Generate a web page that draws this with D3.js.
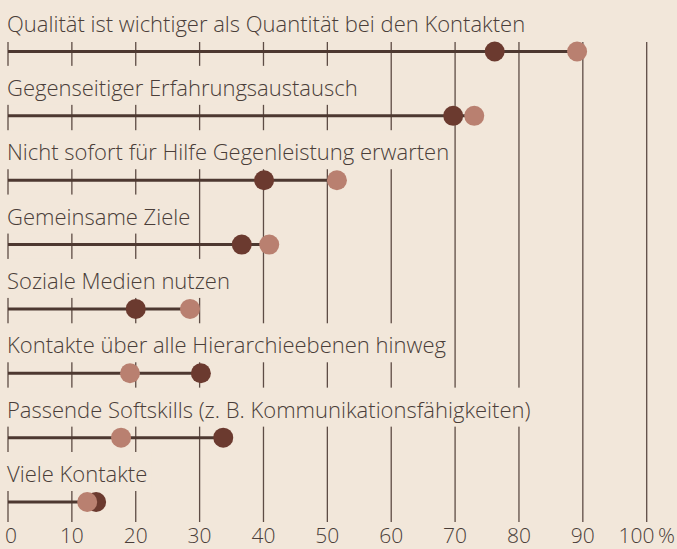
<!DOCTYPE html>
<html>
<head>
<meta charset="utf-8">
<script src="https://cdn.jsdelivr.net/npm/d3@7"></script>
<style>
  html, body { margin: 0; padding: 0; background: #f2e7da; }
  svg { display: block; }
  text { font-family: "Open Sans", sans-serif; font-weight: 300; fill: #4a3e39; }
</style>
</head>
<body>
<script>
var width = 677,
    height = 549;

var labels = [
  "Qualität ist wichtiger als Quantität bei den Kontakten",
  "Gegenseitiger Erfahrungsaustausch",
  "Nicht sofort für Hilfe Gegenleistung erwarten",
  "Gemeinsame Ziele",
  "Soziale Medien nutzen",
  "Kontakte über alle Hierarchieebenen hinweg",
  "Passende Softskills (z. B. Kommunikationsfähigkeiten)",
  "Viele Kontakte"
];
var darkValues = [76.2, 69.7, 40.1, 36.6, 20.0, 30.2, 33.7, 13.8];
var lightValues = [89.1, 73.0, 51.5, 40.9, 28.5, 19.1, 17.7, 12.4];
var tickValues = [0, 10, 20, 30, 40, 50, 60, 70, 80, 90, 100];
var tickLabels = ["0", "10", "20", "30", "40", "50", "60", "70", "80", "90", "100\u2009%"];

var rows = labels.map(function(l, i) {
  return { label: l, dark: darkValues[i], light: lightValues[i] };
});

var x = d3.scaleLinear()
    .domain([0, 100])
    .range([8, 646.7]);

var y = d3.scalePoint()
    .domain(labels)
    .range([51.5, 502]);

var svg = d3.select("body").append("svg")
    .attr("width", width)
    .attr("height", height);

// gridlines, full height; label boxes cover them
svg.append("g")
    .attr("class", "grid")
  .selectAll("line")
    .data(tickValues)
  .enter().append("line")
    .attr("x1", function(d) { return x(d); })
    .attr("x2", function(d) { return x(d); })
    .attr("y1", 42)
    .attr("y2", 522)
    .attr("stroke", "#5e4c45")
    .attr("stroke-width", 1.3);

var row = svg.selectAll(".row")
    .data(rows)
  .enter().append("g")
    .attr("class", "row")
    .attr("transform", function(d) { return "translate(0," + y(d.label) + ")"; });

var bg = row.append("rect")
    .attr("fill", "#f2e7da");

var label = row.append("text")
    .attr("x", 7)
    .attr("y", -20)
    .style("font-size", "22px")
    .text(function(d) { return d.label; });

label.each(function(d, i) {
  var b = this.getBBox();
  d3.select(bg.nodes()[i])
      .attr("x", 0)
      .attr("y", -50)
      .attr("width", b.x + b.width + 4)
      .attr("height", 39);
});

row.append("line")
    .attr("x1", x(0))
    .attr("x2", function(d) { return x(Math.max(d.dark, d.light)); })
    .attr("stroke", "#4d3830")
    .attr("stroke-width", 3);

row.append("circle")
    .attr("cx", function(d) { return x(d.dark); })
    .attr("r", 10)
    .attr("fill", "#6b3a2f");

row.append("circle")
    .attr("cx", function(d) { return x(d.light); })
    .attr("r", 10)
    .attr("fill", "#b98070");

svg.append("g")
    .attr("class", "ticks")
  .selectAll("text")
    .data(tickValues)
  .enter().append("text")
    .attr("x", function(d, i) { return i == 0 ? x(d) - 3 : x(d); })
    .attr("y", 543)
    .attr("text-anchor", function(d, i) { return i == 0 ? "start" : "middle"; })
    .style("font-size", "21px")
    .text(function(d, i) { return tickLabels[i]; });
</script>
</body>
</html>
